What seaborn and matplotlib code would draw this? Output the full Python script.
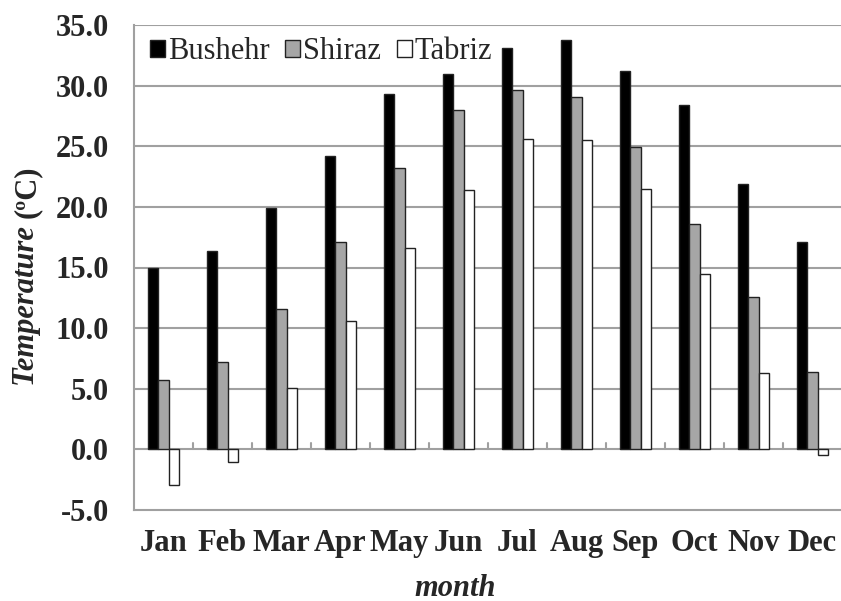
import matplotlib
matplotlib.use("Agg")
import matplotlib.pyplot as plt
import seaborn as sns
import pandas as pd
import numpy as np
from matplotlib.patches import Patch

months = ["Jan", "Feb", "Mar", "Apr", "May", "Jun", "Jul", "Aug", "Sep", "Oct", "Nov", "Dec"]
bushehr = [15.0, 16.4, 19.9, 24.2, 29.3, 31.0, 33.1, 33.8, 31.2, 28.4, 21.9, 17.1]
shiraz = [5.7, 7.2, 11.6, 17.1, 23.2, 28.0, 29.6, 29.1, 24.9, 18.6, 12.6, 6.4]
tabriz = [-2.9, -1.0, 5.1, 10.6, 16.6, 21.4, 25.6, 25.5, 21.5, 14.5, 6.3, -0.5]
stations = ["Bushehr", "Shiraz", "Tabriz"]
yticks = [-5.0, 0.0, 5.0, 10.0, 15.0, 20.0, 25.0, 30.0, 35.0]

df = pd.DataFrame({
    "month": months * 3,
    "station": [s for s in stations for _ in months],
    "temp": bushehr + shiraz + tabriz,
})

sns.set_theme(style="white")
plt.rcParams["font.family"] = ["Liberation Serif", "DejaVu Serif"]

colors = {"Bushehr": "#000000", "Shiraz": "#a6a6a6", "Tabriz": "#ffffff"}
grid_c = "#a0a0a0"
FS = 22

fig = plt.figure(figsize=(8.41, 6.01), dpi=100)
ax = fig.add_axes([134 / 841, 1 - 510 / 601, 708 / 841, (510 - 25) / 601])

sns.barplot(data=df, x="month", y="temp", hue="station", order=months,
            hue_order=stations, palette=colors, width=0.51, gap=0,
            edgecolor="#222222", linewidth=1.0, ax=ax, legend=False, zorder=3)

ax.set_ylim(-5, 35)
ax.set_xlim(-0.5, len(months) - 0.5)
ax.set_yticks(yticks)
ax.set_yticklabels([f"{t:.1f}" for t in yticks], fontsize=FS, fontweight="bold")
ax.set_xticks(range(len(months)))
ax.set_xticklabels(months, fontsize=FS, fontweight="bold")
ax.tick_params(axis="x", length=0, pad=14)
ax.tick_params(axis="y", length=8, width=1.5, color=grid_c, direction="out", pad=10)

for t in yticks:
    if t != -5.0:
        ax.axhline(t, color=grid_c, lw=1.5, zorder=1)
# small category separators on zero line
for i in range(len(months)):
    ax.plot([i + 0.5, i + 0.5], [0, 0.5], color=grid_c, lw=1.5, zorder=1)

for s in ["top", "right"]:
    ax.spines[s].set_visible(False)
for s in ["left", "bottom"]:
    ax.spines[s].set_color(grid_c)
    ax.spines[s].set_linewidth(1.5)

ax.set_xlabel("")
ax.set_ylabel("")

handles = [Patch(facecolor=colors[s], edgecolor="#222222", linewidth=1.0, label=s) for s in stations]
ax.legend(handles=handles, loc="upper left", ncol=3, frameon=False,
          handlelength=0.5, handleheight=0.5, handletextpad=0.1,
          columnspacing=0.5, borderaxespad=0.0, bbox_to_anchor=(0.005, 1.0),
          prop={"size": FS})

fig.text(455 / 841, 1 - 588 / 601, "month", fontsize=FS, fontweight="bold",
         fontstyle="italic", ha="center", va="center")

fig.canvas.draw()
r = fig.canvas.get_renderer()
t1 = fig.text(27 / 841, 0.5, "Temperature ", fontsize=FS, fontweight="bold",
              fontstyle="italic", rotation=90, ha="center", va="bottom")
t2 = fig.text(27 / 841, 0.5, "(ºC)", fontsize=FS, fontweight="bold",
              rotation=90, ha="center", va="bottom")
h1 = t1.get_window_extent(r).height
h2 = t2.get_window_extent(r).height
total = h1 + h2
center_px = 601 - 276
bottom = center_px - total / 2
t1.set_position((27 / 841, bottom / 601))
t2.set_position((27 / 841, (bottom + h1) / 601))

fig.savefig("out.png", dpi=100)
